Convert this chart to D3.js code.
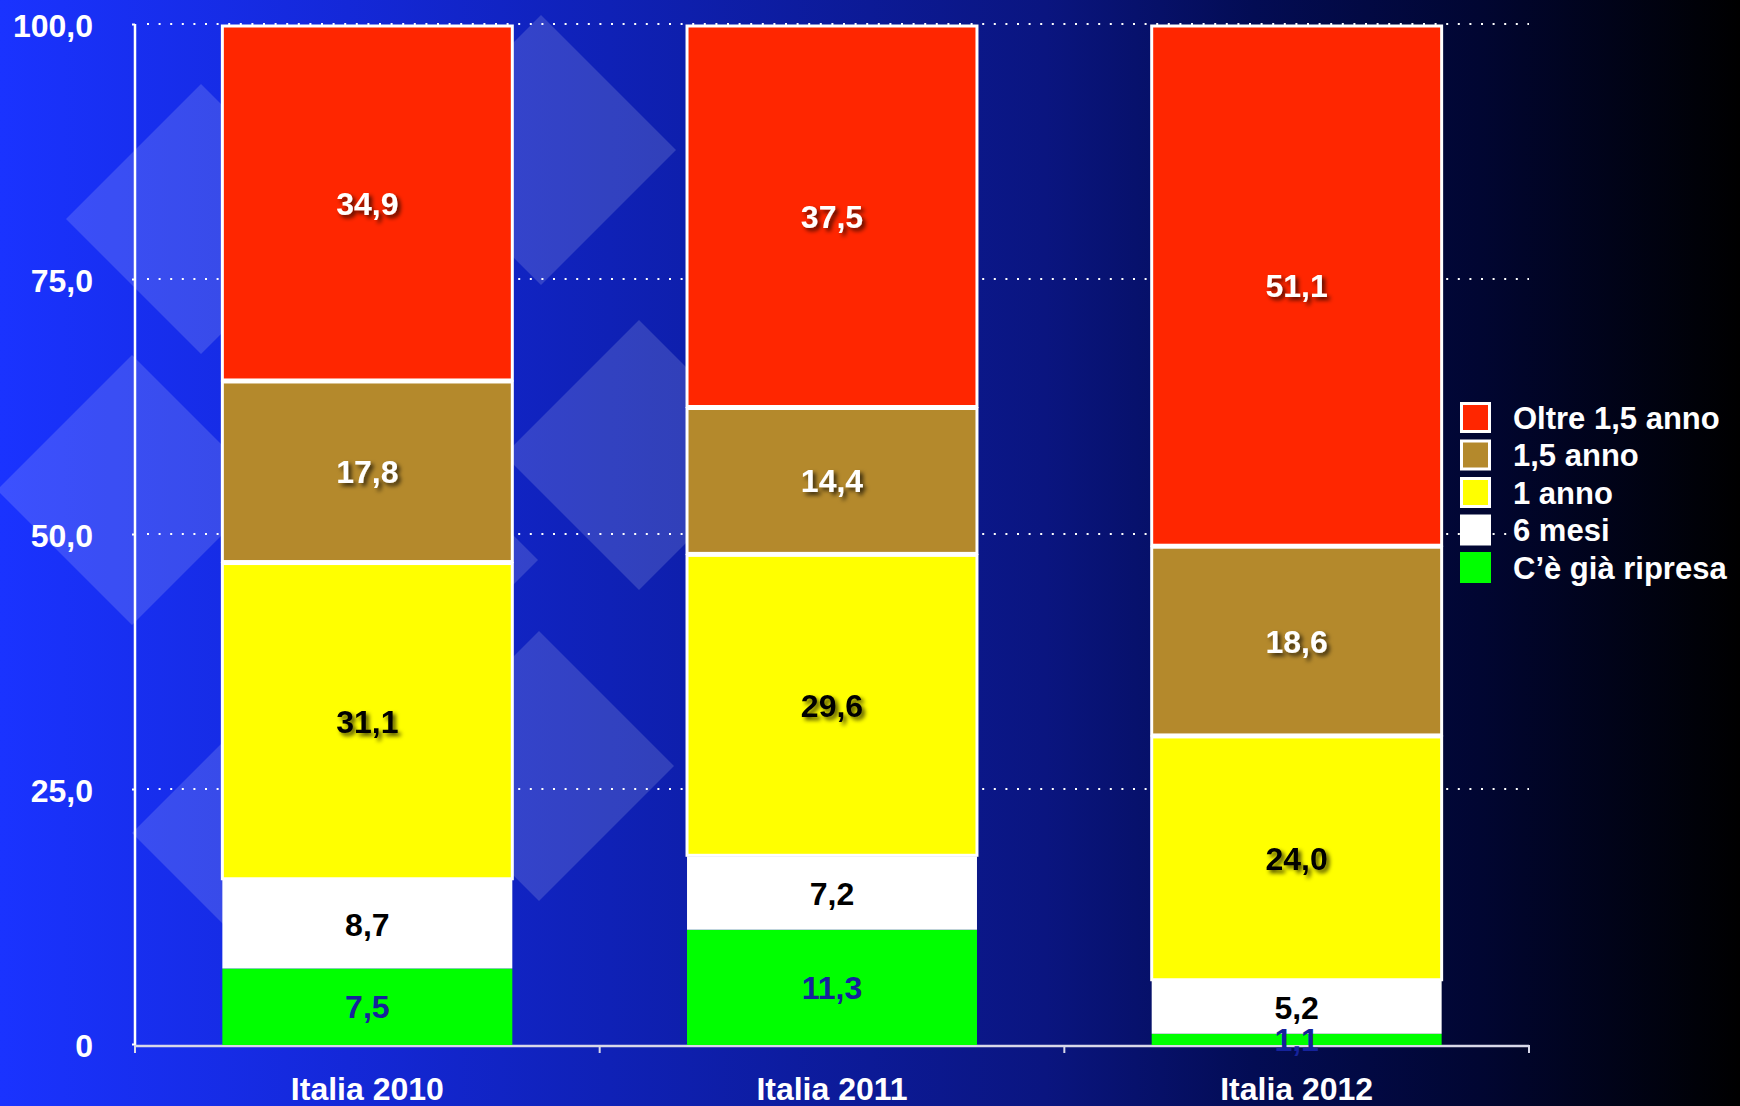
<!DOCTYPE html>
<html>
<head>
<meta charset="utf-8">
<script src="https://cdn.jsdelivr.net/npm/d3@7/dist/d3.min.js"></script>
<style>
  html, body { margin: 0; padding: 0; background: #000; }
  svg { display: block; }
  text { font-family: "Liberation Sans", Arial, sans-serif; font-weight: bold; }
</style>
</head>
<body>
<svg id="chart" width="1740" height="1106"></svg>
<script>
// ---- Data ----
const categories = ["Italia 2010", "Italia 2011", "Italia 2012"];
const seriesNames = ["C’è già ripresa", "6 mesi", "1 anno", "1,5 anno", "Oltre 1,5 anno"];
const giaRipresa = [7.5, 11.3, 1.1];
const seiMesi = [8.7, 7.2, 5.2];
const unAnno = [31.1, 29.6, 24.0];
const annoEMezzo = [17.8, 14.4, 18.6];
const oltreAnnoEMezzo = [34.9, 37.5, 51.1];
const yTickValues = [0, 25, 50, 75, 100];
const yTickLabels = ["0", "25,0", "50,0", "75,0", "100,0"];
const legendOrder = ["Oltre 1,5 anno", "1,5 anno", "1 anno", "6 mesi", "C’è già ripresa"];

// ---- Styles ----
const colors = {
  "C’è già ripresa": "#00ff00",
  "6 mesi": "#ffffff",
  "1 anno": "#ffff00",
  "1,5 anno": "#b4892c",
  "Oltre 1,5 anno": "#ff2600"
};
const bordered = { "1 anno": true, "1,5 anno": true, "Oltre 1,5 anno": true };
const labelStyle = {
  "C’è già ripresa": { fill: "#15229c", shadow: false },
  "6 mesi": { fill: "#000000", shadow: false },
  "1 anno": { fill: "#000000", shadow: true },
  "1,5 anno": { fill: "#ffffff", shadow: true },
  "Oltre 1,5 anno": { fill: "#ffffff", shadow: true }
};
// background decoration (not data)
const decorDiamonds = [[201, 219], [541, 150], [132, 490], [639, 455], [403, 560], [267, 833], [539, 766]];
const decorHalf = 135;

const W = 1740, H = 1106;
const plot = { left: 135, right: 1529, top: 25, bottom: 1045 };

const svg = d3.select("#chart");
const defs = svg.append("defs");
const grad = defs.append("linearGradient").attr("id", "bg").attr("x1", "0").attr("x2", "1").attr("y1", "0").attr("y2", "0");
[[0, "#1a33ff"], [0.2, "#1428d8"], [0.35, "#0f21b6"], [0.5, "#0c1a96"], [0.6, "#0a1580"], [0.72, "#030c54"], [0.85, "#010632"], [1, "#000000"]]
  .forEach(([o, c]) => grad.append("stop").attr("offset", o).attr("stop-color", c));
const f = defs.append("filter").attr("id", "shadow").attr("x", "-20%").attr("y", "-20%").attr("width", "150%").attr("height", "160%");
f.append("feDropShadow").attr("dx", 3).attr("dy", 3).attr("stdDeviation", 2).attr("flood-color", "#000").attr("flood-opacity", 0.7);

svg.append("rect").attr("width", W).attr("height", H).attr("fill", "url(#bg)");

svg.append("g").selectAll("path").data(decorDiamonds).join("path")
  .attr("d", d => `M${d[0]},${d[1] - decorHalf} L${d[0] + decorHalf},${d[1]} L${d[0]},${d[1] + decorHalf} L${d[0] - decorHalf},${d[1]} Z`)
  .attr("fill", "#ffffff").attr("fill-opacity", 0.15);

// ---- Scales ----
const x = d3.scaleBand().domain(categories).range([plot.left, plot.right]).paddingInner(0.376).paddingOuter(0.188);
const y = d3.scaleLinear().domain([0, 100]).range([plot.bottom, plot.top]);

// gridlines
svg.append("g").selectAll("line").data(yTickValues.filter(v => v > 0)).join("line")
  .attr("x1", plot.left + 12).attr("x2", plot.right).attr("y1", d => y(d) - 1).attr("y2", d => y(d) - 1)
  .attr("stroke", "#ffffff").attr("stroke-width", 2).attr("stroke-dasharray", "2,9.6");

// y axis
const yAxis = d3.axisLeft(y).tickValues(yTickValues).tickSize(3).tickFormat((d, i) => yTickLabels[i]);
const gy = svg.append("g").attr("transform", `translate(${plot.left},0)`).call(yAxis);
gy.select(".domain").attr("stroke", "#ffffff").attr("stroke-width", 2.5).attr("d", `M0,${plot.top - 1}V${plot.bottom}`);
gy.selectAll(".tick line").attr("stroke", "#ffffff").attr("stroke-width", 2).attr("transform", "translate(0,-1)");
gy.selectAll(".tick text").attr("fill", "#ffffff").attr("font-size", 32).attr("x", -42).attr("dy", "0.36em");

// x axis
const xTicks = [plot.left, ...categories.map((c, i) => plot.left + (i + 1) * x.step())];
const gx = svg.append("g");
gx.append("line").attr("x1", plot.left).attr("x2", plot.right).attr("y1", plot.bottom + 1).attr("y2", plot.bottom + 1)
  .attr("stroke", "#d8d8e8").attr("stroke-width", 2.5);
gx.selectAll("line.t").data(xTicks).join("line").attr("class", "t")
  .attr("x1", d => d).attr("x2", d => d).attr("y1", plot.bottom).attr("y2", plot.bottom + 8)
  .attr("stroke", "#d8d8e8").attr("stroke-width", 2);
gx.selectAll("text").data(categories).join("text")
  .attr("x", d => x(d) + x.bandwidth() / 2).attr("y", 1100)
  .attr("text-anchor", "middle").attr("fill", "#ffffff").attr("font-size", 32).text(d => d);

// ---- Stack ----
const rows = categories.map((c, i) => ({
  cat: c,
  "C’è già ripresa": giaRipresa[i],
  "6 mesi": seiMesi[i],
  "1 anno": unAnno[i],
  "1,5 anno": annoEMezzo[i],
  "Oltre 1,5 anno": oltreAnnoEMezzo[i]
}));
const stacked = d3.stack().keys(seriesNames)(rows);

const layers = svg.append("g").selectAll("g").data(stacked).join("g");
layers.selectAll("rect").data(s => s.map(d => ({ key: s.key, d }))).join("rect")
  .attr("x", o => x(o.d.data.cat))
  .attr("width", x.bandwidth())
  .attr("y", o => y(o.d[1]) + (bordered[o.key] ? 1 : 0))
  .attr("height", o => y(o.d[0]) - y(o.d[1]) - (bordered[o.key] ? 2 : 0))
  .attr("fill", o => colors[o.key])
  .attr("stroke", o => bordered[o.key] ? "#ffffff" : "none")
  .attr("stroke-width", 3);

const labels = svg.append("g").selectAll("g").data(stacked).join("g");
labels.selectAll("text").data(s => s.map(d => ({ key: s.key, d }))).join("text")
  .attr("x", o => x(o.d.data.cat) + x.bandwidth() / 2)
  .attr("y", o => (y(o.d[0]) + y(o.d[1])) / 2)
  .attr("dy", "0.36em")
  .attr("text-anchor", "middle")
  .attr("font-size", 32)
  .attr("fill", o => labelStyle[o.key].fill)
  .attr("filter", o => labelStyle[o.key].shadow ? "url(#shadow)" : null)
  .text(o => d3.format(".1f")(o.d[1] - o.d[0]).replace(".", ","));

// ---- Legend ----
const legend = svg.append("g").attr("transform", "translate(1460,402)");
const li = legend.selectAll("g").data(legendOrder).join("g").attr("transform", (d, i) => `translate(0,${i * 37.5})`);
li.append("rect")
  .attr("x", d => bordered[d] ? 1.5 : 0).attr("y", d => bordered[d] ? 1.5 : 0)
  .attr("width", d => bordered[d] ? 28 : 31).attr("height", d => bordered[d] ? 28 : 31)
  .attr("fill", d => colors[d])
  .attr("stroke", d => bordered[d] ? "#ffffff" : "none").attr("stroke-width", 3);
li.append("text").attr("x", 53).attr("y", 15.5).attr("dy", "0.36em")
  .attr("fill", "#ffffff").attr("font-size", 31).text(d => d);
</script>
</body>
</html>
